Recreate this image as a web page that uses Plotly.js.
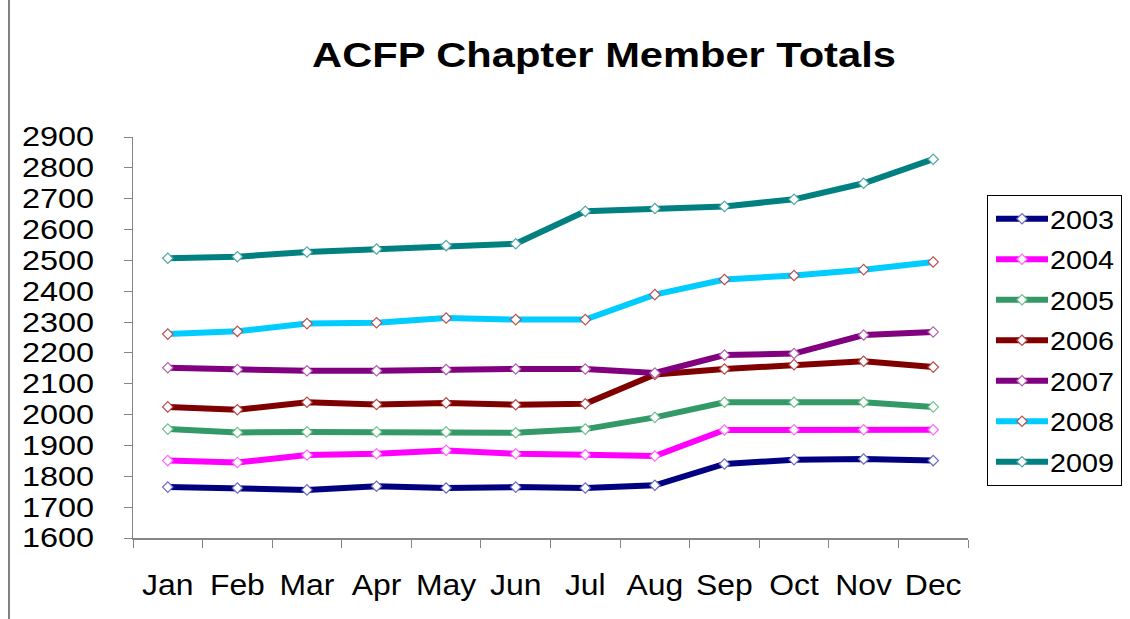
<!DOCTYPE html>
<html>
<head>
<meta charset="utf-8">
<script src="https://cdn.plot.ly/plotly-3.0.1.min.js"></script>
<style>html,body{margin:0;padding:0;background:#fff;}#chart{width:1130px;height:619px;}</style>
</head>
<body>
<div id="chart"></div>
<script>
const months = ["Jan","Feb","Mar","Apr","May","Jun","Jul","Aug","Sep","Oct","Nov","Dec"];
const seriesNames = ["2003","2004","2005","2006","2007","2008","2009"];
const y2003 = [1765,1762,1756,1768,1762,1765,1762,1771,1840,1854,1856,1851];
const y2004 = [1851,1845,1869,1873,1884,1873,1870,1866,1950,1951,1951,1951];
const y2005 = [1953,1942,1944,1944,1944,1941,1953,1991,2040,2040,2040,2025];
const y2006 = [2025,2016,2040,2033,2038,2032,2035,2130,2148,2162,2173,2154];
const y2007 = [2152,2146,2142,2142,2146,2148,2148,2135,2193,2198,2258,2268];
const y2008 = [2261,2270,2295,2298,2313,2308,2308,2389,2438,2451,2470,2495];
const y2009 = [2507,2512,2527,2537,2548,2554,2659,2668,2675,2698,2750,2828];
const seriesValues = [y2003,y2004,y2005,y2006,y2007,y2008,y2009];
const lineColors = ["#000080","#FF00FF","#339966","#800000","#800080","#00CCFF","#008080"];
const markerEdge = ["#6a6ac8","#ff66ff","#70c090","#b84848","#b060b0","#b85050","#50a8a8"];

const traces = seriesNames.map((n,i)=>({
  type:"scatter", mode:"lines+markers", name:n, x:months, y:seriesValues[i],
  legendgroup:n,
  line:{color:lineColors[i], width:6},
  marker:{symbol:"diamond", size:8, color:"#ffffff", line:{color:markerEdge[i], width:1.2}}
}));

const L=133, R=968, T=137, B=538, W=1130, H=619;
const pw=R-L, ph=B-T;
const layout = {
  width:W, height:H,
  margin:{l:L, r:W-R, t:T, b:H-B, pad:0},
  paper_bgcolor:"#ffffff", plot_bgcolor:"#ffffff",
  font:{family:"Liberation Sans, Arial, sans-serif", color:"#000"},
  title:{text:"ACFP Chapter Member Totals", font:{size:35, family:"Liberation Sans, Arial, sans-serif", weight:"bold", color:"#000"},
         xref:"paper", x:(604-L)/pw, xanchor:"center", yref:"container", y:1-55/H, yanchor:"middle"},
  xaxis:{type:"category", tickson:"boundaries", ticks:"outside", ticklen:8, tickcolor:"#868686",
         showline:true, linecolor:"#868686", linewidth:1.5, showgrid:false, zeroline:false,
         tickfont:{size:29}, ticklabelstandoff:21, range:[-0.5,11.5], fixedrange:true},
  yaxis:{range:[1600,2900], dtick:100, tick0:1600, ticks:"outside", ticklen:8, tickcolor:"#868686",
         showline:true, linecolor:"#868686", linewidth:1.5, showgrid:false, zeroline:false,
         tickfont:{size:27}, ticklabelstandoff:24, fixedrange:true},
  legend:{x:(987-L)/pw, xanchor:"left", y:(B-195)/ph, yanchor:"top", bordercolor:"#000", borderwidth:1,
          bgcolor:"#fff", font:{size:25}, tracegroupgap:5, traceorder:"grouped"},
  showlegend:true,
  shapes:[{type:"line", xref:"paper", yref:"paper", x0:(9-L)/pw, x1:(9-L)/pw, y0:(B-0)/ph, y1:(B-H)/ph,
           line:{color:"#000", width:1}}]
};

function stretch(el, sx){
  const cx = parseFloat(el.getAttribute("x")) || 0;
  const t = el.getAttribute("transform") || "";
  el.setAttribute("transform", t + " translate(" + cx + ",0) scale(" + sx + ",1) translate(" + (-cx) + ",0)");
}
Plotly.newPlot("chart", traces, layout, {displayModeBar:false, staticPlot:true}).then(gd=>{
  try {
    gd.querySelectorAll(".ytick text").forEach(e=>stretch(e,1.2));
    gd.querySelectorAll(".xtick text").forEach(e=>stretch(e,1.1));
    gd.querySelectorAll(".gtitle").forEach(e=>stretch(e,1.19));
    const lg = gd.querySelector(".legend");
    if (lg) {
      lg.querySelectorAll("[clip-path]").forEach(e=>e.removeAttribute("clip-path"));
      lg.querySelectorAll(".legendtext").forEach(e=>{ e.setAttribute("x", 62); stretch(e,1.15); });
      lg.querySelectorAll(".legendlines path").forEach(e=>e.setAttribute("d","M8,0h52"));
      lg.querySelectorAll(".legendpoints path").forEach(e=>{
        const t = e.getAttribute("transform") || "";
        e.setAttribute("transform", t.replace(/translate\(\s*[-\d.]+\s*,/, "translate(34,"));
      });
      const bg = lg.querySelector("rect.bg");
      if (bg) bg.setAttribute("width", 134);
    }
  } catch(err) {}
});
</script>
</body>
</html>
